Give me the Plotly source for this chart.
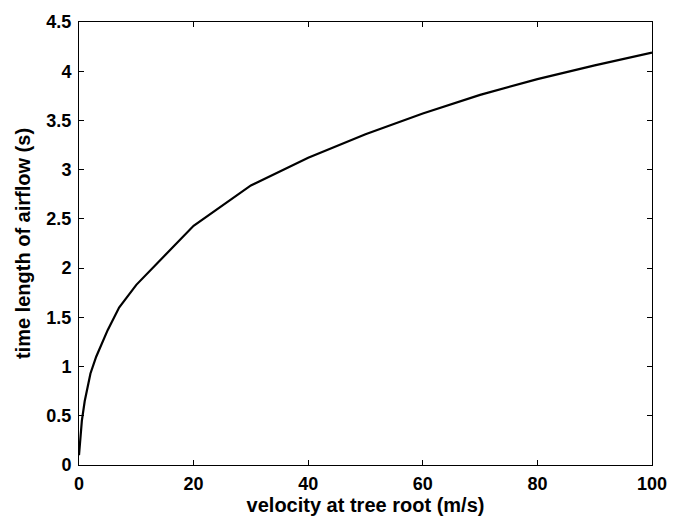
import plotly.graph_objects as go

velocity = [0, 0.25, 0.5, 1, 2, 3, 5, 7, 10, 20, 30, 40, 50, 60, 70, 80, 90, 100]
time_len = [0.1, 0.3, 0.45, 0.65, 0.93, 1.1, 1.37, 1.6, 1.83, 2.43, 2.84, 3.12, 3.36, 3.57, 3.76, 3.92, 4.06, 4.19]
x_ticks = [0, 20, 40, 60, 80, 100]
y_ticks = [0, 0.5, 1, 1.5, 2, 2.5, 3, 3.5, 4, 4.5]

fig = go.Figure()
fig.add_trace(go.Scatter(x=velocity, y=time_len, mode="lines",
                         line=dict(color="black", width=2.2), showlegend=False))

tick_font = dict(family="Liberation Sans, Arial, sans-serif", size=18, color="black", weight="bold")
title_font = dict(family="Liberation Sans, Arial, sans-serif", size=20, color="black", weight="bold")
axis_common = dict(showline=True, linecolor="black", linewidth=1, mirror="ticks",
                   ticks="inside", ticklen=5, tickcolor="black", tickwidth=1,
                   showgrid=False, zeroline=False, tickfont=tick_font)

fig.update_layout(
    width=682, height=520,
    margin=dict(l=79, r=30, t=20, b=52),
    paper_bgcolor="white", plot_bgcolor="white",
    xaxis=dict(range=[0, 100], tickvals=x_ticks, ticktext=[str(v) for v in x_ticks],
               title=dict(text="velocity at tree root (m/s)", font=title_font, standoff=0),
               ticklabelstandoff=2, **axis_common),
    yaxis=dict(range=[0, 4.5], tickvals=y_ticks, ticktext=[f"{v:g}" for v in y_ticks],
               title=dict(text="time length of airflow (s)", font=title_font, standoff=10),
               ticklabelstandoff=3, **axis_common),
)

fig.write_html("out.html")
